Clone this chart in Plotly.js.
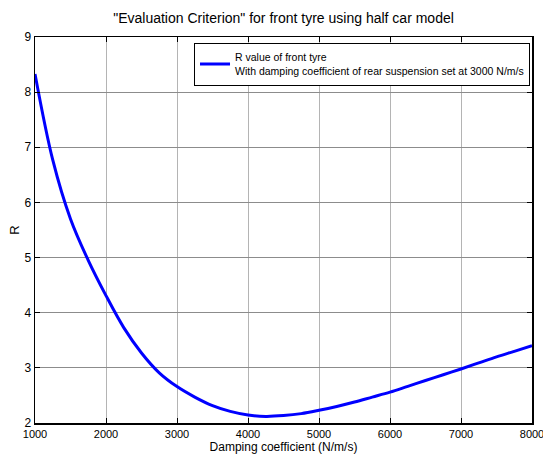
<!DOCTYPE html>
<html>
<head>
<meta charset="utf-8">
<script src="https://cdn.plot.ly/plotly-3.0.1.min.js"></script>
<style>html,body{margin:0;padding:0;background:#fff;}#chart{width:543px;height:461px;}</style>
</head>
<body>
<div id="chart"></div>
<script>
// Damping coefficient of front suspension (N/m/s)
var damping = [1000, 1250, 1500, 1750, 2000, 2250, 2500, 2750, 3000, 3250, 3500, 3750, 4000, 4250, 4500, 4750, 5000, 5250, 5500, 5750, 6000, 6250, 6500, 6750, 7000, 7250, 7500, 7750, 8000];
// R value of front tyre
var rValue = [8.33, 6.77, 5.70, 4.95, 4.31, 3.73, 3.27, 2.91, 2.66, 2.47, 2.315, 2.21, 2.145, 2.12, 2.135, 2.17, 2.23, 2.30, 2.38, 2.47, 2.56, 2.665, 2.77, 2.875, 2.98, 3.09, 3.20, 3.30, 3.40];

var xTicks = [1000, 2000, 3000, 4000, 5000, 6000, 7000, 8000];
var yTicks = [2, 3, 4, 5, 6, 7, 8, 9];

var FONT = '"Liberation Sans Narrow", "Arial Narrow", "Liberation Sans", Arial, sans-serif';

var trace = {
  x: damping,
  y: rValue,
  type: 'scatter',
  mode: 'lines',
  line: {color: '#0000ff', width: 3, shape: 'spline', smoothing: 1},
  name: 'R value of front tyre<br>With damping coefficient of rear suspension set at 3000 N/m/s'
};

var layout = {
  width: 543,
  height: 461,
  margin: {l: 35, r: 11, t: 37, b: 38, pad: 0},
  paper_bgcolor: '#fff',
  plot_bgcolor: '#fff',
  font: {family: FONT, size: 11, color: '#000'},
  title: {
    text: '"Evaluation Criterion" for front tyre using half car model',
    font: {family: FONT, size: 14, color: '#000'},
    x: 0.5, xref: 'paper',
    y: 1 - 18 / 461, yref: 'container', yanchor: 'middle'
  },
  xaxis: {
    range: [1000, 8000],
    tickvals: xTicks,
    ticktext: xTicks.map(String),
    showgrid: true, gridcolor: '#b4b4b4', gridwidth: 1,
    zeroline: false,
    showline: true, linecolor: '#000', linewidth: 1.5, mirror: 'ticks',
    ticks: 'inside', ticklen: 5, tickcolor: '#000', tickwidth: 1,
    ticklabeloverflow: 'allow',
    tickfont: {family: FONT, size: 11, color: '#000'},
    title: {text: 'Damping coefficient (N/m/s)', font: {family: FONT, size: 12, color: '#000'}, standoff: 4}
  },
  yaxis: {
    range: [2, 9],
    tickvals: yTicks,
    ticktext: yTicks.map(String),
    showgrid: true, gridcolor: '#8c8c8c', gridwidth: 1,
    zeroline: false,
    showline: true, linecolor: '#000', linewidth: 1.5, mirror: 'ticks',
    ticks: 'inside', ticklen: 5, tickcolor: '#000', tickwidth: 1,
    tickfont: {family: FONT, size: 12, color: '#000'},
    title: {text: 'R', font: {family: FONT, size: 13, color: '#000'}, standoff: 2}
  },
  showlegend: true,
  legend: {
    x: 0.996, xanchor: 'right',
    y: 0.985, yanchor: 'top',
    bgcolor: '#fff',
    bordercolor: '#000', borderwidth: 1,
    font: {family: FONT, size: 10.5, color: '#000'},
    itemwidth: 30,
    tracegroupgap: 0
  }
};

Plotly.newPlot('chart', [trace], layout, {displayModeBar: false, staticPlot: true});
</script>
</body>
</html>
